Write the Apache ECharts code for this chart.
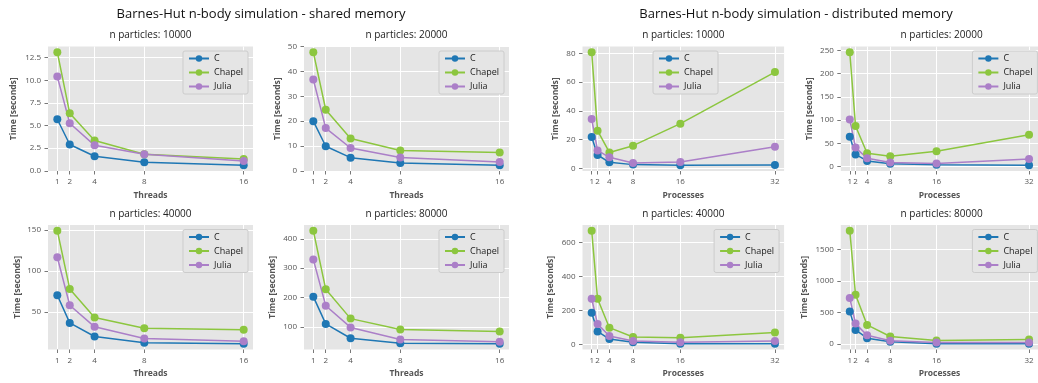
<!DOCTYPE html>
<html>
<head>
<meta charset="utf-8">
<title>Barnes-Hut n-body simulation</title>
<script src="https://cdn.jsdelivr.net/npm/echarts@6/dist/echarts.min.js"></script>
<style>
	html, body { margin: 0; padding: 0; background: #fff; }
	#chart { width: 1038px; height: 383px; }
</style>
</head>
<body>
<div id="chart"></div>
<script>
// x values
var threads = [1, 2, 4, 8, 16];
var processes = [1, 2, 4, 8, 16, 32];
var langs = ['C', 'Chapel', 'Julia'];
var langColors = ['#1f77b4', '#8cc63f', '#ab7fc8'];

// shared memory, time [seconds]
var sharedC10000 = [5.69, 2.9, 1.6, 0.95, 0.6];
var sharedChapel10000 = [13.1, 6.34, 3.35, 1.82, 1.31];
var sharedJulia10000 = [10.4, 5.25, 2.81, 1.82, 1.07];

var sharedC20000 = [20.0, 9.9, 5.3, 3.1, 2.2];
var sharedChapel20000 = [47.8, 24.6, 13.0, 8.2, 7.4];
var sharedJulia20000 = [36.8, 17.2, 9.2, 5.4, 3.5];

var sharedC40000 = [70.4, 36.8, 20.2, 12.6, 11.3];
var sharedChapel40000 = [149, 78.1, 43.3, 30.4, 28.3];
var sharedJulia40000 = [116.6, 58.3, 32, 17.8, 14.6];

var sharedC80000 = [203, 110, 61, 44, 42];
var sharedChapel80000 = [428, 228, 128, 91, 84];
var sharedJulia80000 = [330, 172, 98, 57, 49];

// distributed memory, time [seconds]
var distC10000 = [21.8, 9.3, 4.2, 2.6, 2.1, 2.3];
var distChapel10000 = [80.9, 26.2, 11.1, 15.8, 31.1, 67.0];
var distJulia10000 = [34.3, 12.5, 7.7, 3.7, 4.4, 15.1];

var distC20000 = [64, 26, 12, 6, 4, 2.5];
var distChapel20000 = [246, 87, 28.6, 22, 33, 68.5];
var distJulia20000 = [101, 40.7, 17.9, 8.6, 6.5, 16];

var distC40000 = [186, 76, 31, 13, 4, 3];
var distChapel40000 = [668, 268, 98, 43, 39, 69];
var distJulia40000 = [268, 119, 49, 20, 12, 20];

var distC80000 = [516, 226, 95, 37, 5, 5];
var distChapel80000 = [1800, 784, 305, 121, 58, 73];
var distJulia80000 = [732, 326, 142, 53, 26, 26];

// y tick labels
var ticksShared10000 = [0, 2.5, 5, 7.5, 10, 12.5];
var ticksShared20000 = [0, 10, 20, 30, 40, 50];
var ticksShared40000 = [50, 100, 150];
var ticksShared80000 = [100, 200, 300, 400];
var ticksDist10000 = [0, 20, 40, 60, 80];
var ticksDist20000 = [0, 50, 100, 150, 200, 250];
var ticksDist40000 = [0, 200, 400, 600];
var ticksDist80000 = [0, 500, 1000, 1500];

var FONT = 'Open Sans';
var colLeft = [48, 304, 582.5, 840.8];
var colWidth = [205, 205, 201.6, 201.6];
var rowTop = [46.5, 225];
var rowHeight = 124.5;

var panels = [
	{ title: 'n particles: 10000', col: 0, row: 0, xs: threads, ys: [sharedC10000, sharedChapel10000, sharedJulia10000], yTicks: ticksShared10000, digits: 1, nameGap: 30 },
	{ title: 'n particles: 20000', col: 1, row: 0, xs: threads, ys: [sharedC20000, sharedChapel20000, sharedJulia20000], yTicks: ticksShared20000, digits: 0, nameGap: 22 },
	{ title: 'n particles: 40000', col: 0, row: 1, xs: threads, ys: [sharedC40000, sharedChapel40000, sharedJulia40000], yTicks: ticksShared40000, digits: 0, nameGap: 26 },
	{ title: 'n particles: 80000', col: 1, row: 1, xs: threads, ys: [sharedC80000, sharedChapel80000, sharedJulia80000], yTicks: ticksShared80000, digits: 0, nameGap: 27 },
	{ title: 'n particles: 10000', col: 2, row: 0, xs: processes, ys: [distC10000, distChapel10000, distJulia10000], yTicks: ticksDist10000, digits: 0, nameGap: 22, legendLeft: 653 },
	{ title: 'n particles: 20000', col: 3, row: 0, xs: processes, ys: [distC20000, distChapel20000, distJulia20000], yTicks: ticksDist20000, digits: 0, nameGap: 26.5 },
	{ title: 'n particles: 40000', col: 2, row: 1, xs: processes, ys: [distC40000, distChapel40000, distJulia40000], yTicks: ticksDist40000, digits: 0, nameGap: 27 },
	{ title: 'n particles: 80000', col: 3, row: 1, xs: processes, ys: [distC80000, distChapel80000, distJulia80000], yTicks: ticksDist80000, digits: 0, nameGap: 32 }
];

var option = {
	animation: false,
	backgroundColor: '#fff',
	grid: [],
	xAxis: [],
	yAxis: [],
	series: [],
	legend: [],
	graphic: [
		{ type: 'text', x: 261, y: 14, style: { text: 'Barnes-Hut n-body simulation - shared memory', fontFamily: FONT, fontSize: 13, fill: '#111', align: 'center', verticalAlign: 'middle' } },
		{ type: 'text', x: 796, y: 14, style: { text: 'Barnes-Hut n-body simulation - distributed memory', fontFamily: FONT, fontSize: 13, fill: '#111', align: 'center', verticalAlign: 'middle' } }
	]
};

panels.forEach(function (p, i) {
	var left = colLeft[p.col];
	var top = rowTop[p.row];
	var w = colWidth[p.col];
	var shared = p.xs === threads;

	option.grid.push({
		left: left, top: top, width: w, height: rowHeight,
		show: true, backgroundColor: '#e5e5e5', borderWidth: 0
	});

	option.xAxis.push({
		gridIndex: i,
		type: 'value',
		min: shared ? 0.25 : -0.55,
		max: shared ? 16.75 : 33.55,
		name: shared ? 'Threads' : 'Processes',
		nameLocation: 'middle',
		nameGap: 20,
		nameTextStyle: { fontFamily: FONT, fontWeight: 'bold', fontSize: 8.5, color: '#555' },
		axisLine: { show: false, onZero: false },
		axisTick: { show: true, customValues: p.xs, length: 3.5, lineStyle: { color: '#555', width: 0.8 } },
		axisLabel: { customValues: p.xs, margin: 7, fontFamily: FONT, fontSize: 8, color: '#555', hideOverlap: false },
		splitLine: { show: true, lineStyle: { color: '#fff', width: 1 } }
	});

	option.yAxis.push({
		gridIndex: i,
		type: 'value',
		min: function (v) { return v.min - (v.max - v.min) * 0.05; },
		max: function (v) { return v.max + (v.max - v.min) * 0.05; },
		name: 'Time [seconds]',
		nameLocation: 'middle',
		nameGap: p.nameGap,
		nameTextStyle: { fontFamily: FONT, fontWeight: 'bold', fontSize: 8.5, color: '#555' },
		axisLine: { show: false, onZero: false },
		axisTick: { show: true, customValues: p.yTicks, length: 3.5, lineStyle: { color: '#555', width: 0.8 } },
		axisLabel: {
			customValues: p.yTicks, margin: 7, fontFamily: FONT, fontSize: 8, color: '#555',
			formatter: function (v) { return Number(v).toFixed(p.digits); }
		},
		splitLine: { show: true, lineStyle: { color: '#fff', width: 1 } }
	});

	langs.forEach(function (name, k) {
		option.series.push({
			name: name,
			type: 'line',
			xAxisIndex: i,
			yAxisIndex: i,
			data: p.xs.map(function (x, j) { return [x, p.ys[k][j]]; }),
			symbol: 'circle',
			symbolSize: 8,
			color: langColors[k],
			lineStyle: { width: 1.5 },
			emphasis: { disabled: true }
		});
	});

	var leg = {
		data: langs,
		orient: 'vertical',
		top: top + 4.5,
		itemWidth: 20,
		itemHeight: 8,
		itemGap: 5,
		padding: [3, 5, 3, 5],
		backgroundColor: '#e5e5e5',
		borderColor: '#cccccc',
		borderWidth: 1,
		borderRadius: 2,
		textStyle: { fontFamily: FONT, fontSize: 9, color: '#222' }
	};
	if (p.legendLeft) {
		leg.left = p.legendLeft;
	} else {
		leg.right = 1038 - (left + w - 5);
	}
	option.legend.push(leg);

	option.graphic.push({
		type: 'text', x: left + w / 2, y: top - 11,
		style: { text: p.title, fontFamily: FONT, fontSize: 10, fill: '#222', align: 'center', verticalAlign: 'middle' }
	});
});

var myChart = echarts.init(document.getElementById('chart'));
myChart.setOption(option);
window.addEventListener('resize', function () {
	myChart.resize();
});
</script>
</body>
</html>
